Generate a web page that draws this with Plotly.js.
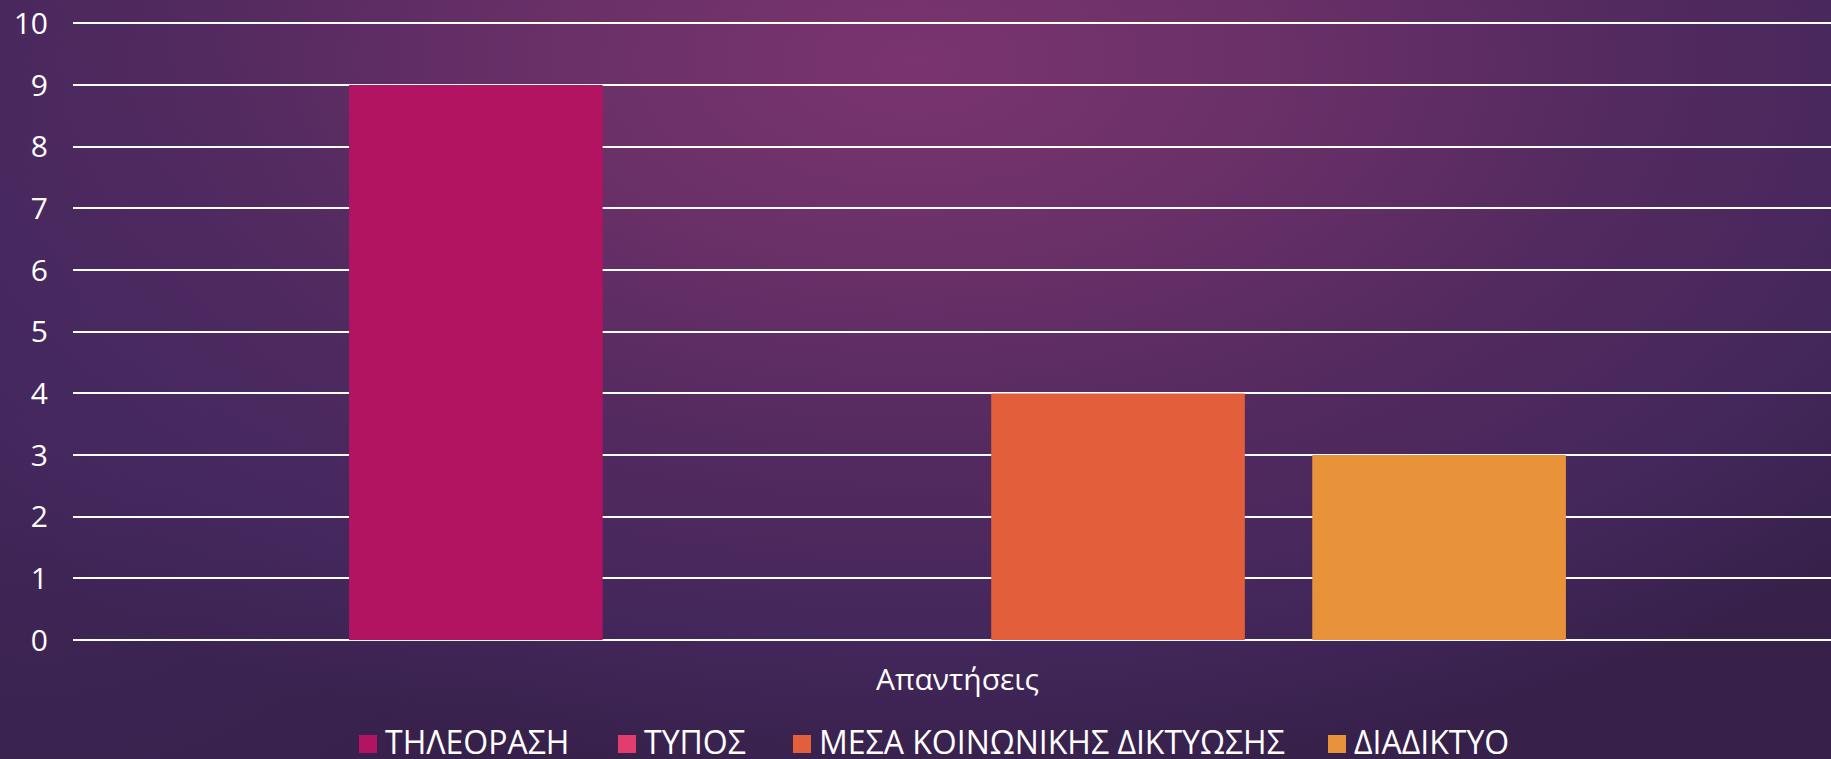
<!DOCTYPE html>
<html>
<head>
<meta charset="utf-8">
<script src="https://cdn.plot.ly/plotly-3.0.1.min.js"></script>
<style>
  html, body { margin:0; padding:0; width:1831px; height:759px; overflow:hidden; }
  body {
    background:
      radial-gradient(ellipse 30% 60% at 2% 60%, rgba(72,42,100,0.55) 0%, rgba(72,42,100,0) 100%),
      radial-gradient(ellipse 70% 95% at 50% 8%, #7a3470 0%, #6a3068 28%, #532a5f 55%, #44275c 80%, #37214b 100%);
  }
  #chart { width:1831px; height:759px; }
</style>
</head>
<body>
<div id="chart"></div>
<script>
const categories = ["Απαντήσεις"];
const seriesNames = ["ΤΗΛΕΟΡΑΣΗ", "ΤΥΠΟΣ", "ΜΕΣΑ ΚΟΙΝΩΝΙΚΗΣ ΔΙΚΤΥΩΣΗΣ", "ΔΙΑΔΙΚΤΥΟ"];
const tileorasi = [9];
const typos = [0];
const mesaKoinonikis = [4];
const diadiktyo = [3];
const seriesColors = ["#B31462", "#E33D6F", "#E35F3C", "#E8933A"];
const yTicks = [0,1,2,3,4,5,6,7,8,9,10];

const seriesValues = [tileorasi, typos, mesaKoinonikis, diadiktyo];
const FONT = '"Century Gothic", "Open Sans", "Noto Sans", sans-serif';

// layout geometry (pixels)
const W = 1831, H = 759;
const M = { l: 73, r: 0, t: 21, b: 119 };
const plotW = W - M.l - M.r, plotH = H - M.t - M.b;
const pxX = px => (px - M.l) / plotW;
const pxY = py => (H - M.b - py) / plotH;
// legend entry left edges (px) – layout positions
const legendLeft = [359, 618, 793, 1328];
const legendSquare = 18, legendTextGap = 24, legendSquareY = 744, legendTextY = 741;

const traces = seriesNames.map((name, i) => ({
  type: 'bar',
  name: name,
  x: categories,
  y: seriesValues[i],
  marker: { color: seriesColors[i], line: { width: 0 } },
  hoverinfo: 'name+y',
  showlegend: false
}));

const shapes = seriesNames.map((n, i) => ({
  type: 'rect', xref: 'paper', yref: 'paper',
  x0: pxX(legendLeft[i]), x1: pxX(legendLeft[i] + legendSquare),
  y0: pxY(legendSquareY + legendSquare / 2), y1: pxY(legendSquareY - legendSquare / 2),
  fillcolor: seriesColors[i], line: { width: 0 }
}));

const annotations = seriesNames.map((n, i) => ({
  xref: 'paper', yref: 'paper',
  x: pxX(legendLeft[i] + legendTextGap), y: pxY(legendTextY),
  xanchor: 'left', yanchor: 'middle',
  text: n, showarrow: false,
  font: { family: FONT, size: 32, color: '#ffffff' }
}));

const layout = {
  width: W,
  height: H,
  paper_bgcolor: 'rgba(0,0,0,0)',
  plot_bgcolor: 'rgba(0,0,0,0)',
  margin: { l: M.l, r: M.r, t: M.t, b: M.b, autoexpand: false },
  barmode: 'group',
  bargap: 0.274,
  bargroupgap: 0.21,
  font: { family: FONT, color: '#ffffff', size: 30 },
  xaxis: {
    type: 'category',
    range: [-0.5, 0.4938],
    showgrid: false,
    zeroline: false,
    showline: false,
    ticks: 'outside',
    ticklen: 13,
    tickcolor: 'rgba(0,0,0,0)',
    tickfont: { family: FONT, size: 30, color: '#ffffff' }
  },
  yaxis: {
    range: [0, 10.04],
    tickvals: yTicks,
    ticktext: yTicks.map(String),
    showgrid: true,
    gridcolor: '#ffffff',
    gridwidth: 2,
    zeroline: true,
    zerolinecolor: '#ffffff',
    zerolinewidth: 2,
    showline: false,
    ticks: 'outside',
    ticklen: 18,
    tickcolor: 'rgba(0,0,0,0)',
    tickfont: { family: FONT, size: 30, color: '#ffffff' }
  },
  showlegend: false,
  shapes: shapes,
  annotations: annotations
};

Plotly.newPlot('chart', traces, layout, { displayModeBar: false, staticPlot: true });
</script>
</body>
</html>
